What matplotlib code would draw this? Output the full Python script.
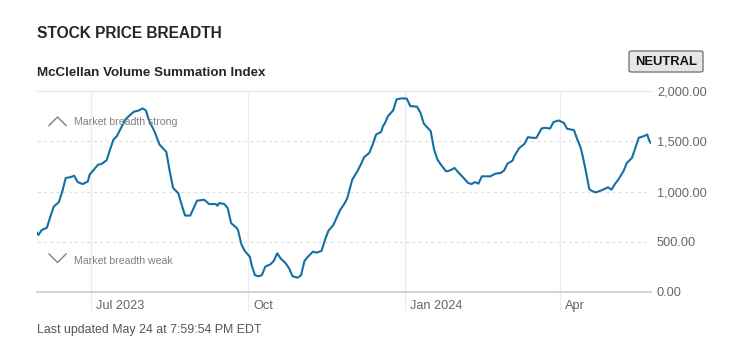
import matplotlib
matplotlib.use("Agg")
import matplotlib.pyplot as plt
import matplotlib.dates as mdates
from matplotlib.transforms import ScaledTranslation
from matplotlib.patches import FancyBboxPatch
from matplotlib.lines import Line2D
import pandas as pd

plt.rcParams['font.family'] = ['Liberation Sans', 'DejaVu Sans']

title = "STOCK PRICE BREADTH"
subtitle = "McClellan Volume Summation Index"
status = "NEUTRAL"
footer = "Last updated May 24 at 7:59:54 PM EDT"
label_strong = "Market breadth strong"
label_weak = "Market breadth weak"

dates = [
    "2023-05-30", "2023-05-31", "2023-06-02", "2023-06-05", "2023-06-07", "2023-06-09",
    "2023-06-12", "2023-06-14", "2023-06-16", "2023-06-19", "2023-06-21", "2023-06-23",
    "2023-06-26", "2023-06-29", "2023-06-30", "2023-07-03", "2023-07-05", "2023-07-07",
    "2023-07-10", "2023-07-12", "2023-07-14", "2023-07-16", "2023-07-19", "2023-07-21",
    "2023-07-23", "2023-07-26", "2023-07-29", "2023-07-31", "2023-08-02", "2023-08-04",
    "2023-08-07", "2023-08-10", "2023-08-14", "2023-08-16", "2023-08-18", "2023-08-21",
    "2023-08-23", "2023-08-25", "2023-08-28", "2023-08-30", "2023-09-01", "2023-09-05",
    "2023-09-06", "2023-09-08", "2023-09-12", "2023-09-13", "2023-09-14", "2023-09-17",
    "2023-09-19", "2023-09-21", "2023-09-24", "2023-09-25", "2023-09-27", "2023-09-29",
    "2023-10-02", "2023-10-03", "2023-10-05", "2023-10-07", "2023-10-09", "2023-10-11",
    "2023-10-14", "2023-10-16", "2023-10-18", "2023-10-20", "2023-10-23", "2023-10-25",
    "2023-10-27", "2023-10-30", "2023-11-01", "2023-11-03", "2023-11-05", "2023-11-08",
    "2023-11-10", "2023-11-13", "2023-11-15", "2023-11-17", "2023-11-20", "2023-11-22",
    "2023-11-24", "2023-11-26", "2023-11-28", "2023-12-01", "2023-12-04", "2023-12-06",
    "2023-12-08", "2023-12-11", "2023-12-13", "2023-12-15", "2023-12-18", "2023-12-19",
    "2023-12-20", "2023-12-22", "2023-12-25", "2023-12-27", "2023-12-30", "2024-01-02",
    "2024-01-04", "2024-01-08", "2024-01-10", "2024-01-12", "2024-01-16", "2024-01-18",
    "2024-01-20", "2024-01-22", "2024-01-25", "2024-01-27", "2024-01-30", "2024-02-01",
    "2024-02-04", "2024-02-07", "2024-02-09", "2024-02-11", "2024-02-13", "2024-02-15",
    "2024-02-20", "2024-02-23", "2024-02-26", "2024-02-28", "2024-03-01", "2024-03-04",
    "2024-03-05", "2024-03-08", "2024-03-11", "2024-03-13", "2024-03-16", "2024-03-18",
    "2024-03-21", "2024-03-23", "2024-03-26", "2024-03-28", "2024-03-31", "2024-04-03",
    "2024-04-05", "2024-04-09", "2024-04-11", "2024-04-13", "2024-04-14", "2024-04-16",
    "2024-04-18", "2024-04-20", "2024-04-22", "2024-04-25", "2024-04-29", "2024-05-01",
    "2024-05-03", "2024-05-05", "2024-05-08", "2024-05-10", "2024-05-13", "2024-05-15",
    "2024-05-17", "2024-05-20", "2024-05-22", "2024-05-23", "2024-05-24",
]

values = [
    594, 567, 617, 640, 750, 850,
    894, 1000, 1134, 1144, 1157, 1094,
    1074, 1100, 1167, 1227, 1267, 1274,
    1311, 1417, 1517, 1551, 1651, 1717,
    1750, 1794, 1807, 1827, 1807, 1700,
    1600, 1467, 1394, 1201, 1034, 984,
    867, 761, 760, 834, 908, 918,
    908, 875, 875, 858, 885, 875,
    834, 685, 641, 618, 475, 408,
    351, 268, 167, 157, 167, 252,
    275, 309, 385, 335, 285, 235,
    157, 142, 167, 309, 351, 402,
    392, 408, 518, 608, 668, 745,
    818, 868, 928, 1118, 1201, 1267,
    1341, 1384, 1467, 1567, 1594, 1651,
    1674, 1751, 1807, 1917, 1927, 1924,
    1850, 1844, 1784, 1674, 1601, 1417,
    1317, 1267, 1201, 1207, 1234, 1194,
    1141, 1084, 1074, 1094, 1078, 1151,
    1151, 1178, 1184, 1208, 1277, 1307,
    1351, 1434, 1474, 1541, 1534, 1534,
    1627, 1634, 1627, 1691, 1707, 1684,
    1624, 1611, 1517, 1434, 1361, 1201,
    1024, 1001, 991, 1011, 1041, 1018,
    1074, 1118, 1201, 1284, 1334, 1434,
    1534, 1551, 1567, 1510, 1484,
]

y_ticks = [0, 500, 1000, 1500, 2000]
x_tick_dates = ["2023-07-01", "2023-10-01", "2024-01-01", "2024-04-01"]
x_tick_labels = ["Jul 2023", "Oct", "Jan 2024", "Apr"]

W, H = 742, 359
fig = plt.figure(figsize=(W / 100, H / 100), dpi=100)
fig.patch.set_facecolor("white")


def fx(px):
    return px / W


def fy(py):
    return 1 - py / H


left, right, top, bottom = 36.7, 650.7, 91, 292
ax = fig.add_axes([fx(left), fy(bottom), fx(right) - fx(left), (bottom - top) / H])

d = pd.to_datetime(dates)
ax.plot(d, values, color="#1470a3", lw=1.5, zorder=5, solid_joinstyle="round")

ax.set_xlim(d[0], d[-1])
ax.set_ylim(0, 2000)

for s in ["left", "right", "top", "bottom"]:
    ax.spines[s].set_visible(False)

# horizontal grid
for v in y_ticks:
    if v == 0:
        ax.axhline(v, color="#cccccc", lw=1.2, zorder=2, clip_on=False)
    elif v == 2000:
        ax.axhline(v, color="#e6e6e6", lw=1.0, zorder=1, clip_on=False)
    else:
        ax.axhline(v, color="#e0e0e0", lw=0.9, ls=(0, (2.5, 2.5)), zorder=1)

# vertical grid
xt = pd.to_datetime(x_tick_dates)
for t in xt:
    ax.axvline(t, ymin=-18 / (bottom - top), ymax=1, color="#ececec", lw=1.0, zorder=1, clip_on=False)

ax.yaxis.tick_right()
ax.set_yticks(y_ticks)
ax.set_yticklabels([f"{v:,.2f}" for v in y_ticks])
ax.tick_params(axis="y", length=0, pad=4.5, labelsize=9.2, labelcolor="#666666")

ax.set_xticks(xt)
ax.set_xticklabels(x_tick_labels)
ax.tick_params(axis="x", length=0, pad=5.5, labelsize=9.2, labelcolor="#666666")
off = ScaledTranslation(5 / 100, 0, fig.dpi_scale_trans)
for lab in ax.get_xticklabels():
    lab.set_horizontalalignment("left")
    lab.set_transform(lab.get_transform() + off)

# titles
fig.text(fx(37), fy(33), title, fontsize=11.2, fontweight="bold", color="#262626", va="center", ha="left")
fig.text(fx(37), fy(73), subtitle, fontsize=9.6, fontweight="bold", color="#262626", va="center", ha="left")

# status badge
bx0, bx1, by0, by1 = 629, 703, 51, 72
badge = FancyBboxPatch((fx(bx0), fy(by1)), fx(bx1) - fx(bx0), fy(by0) - fy(by1),
                       boxstyle="round,pad=0,rounding_size=0.004", transform=fig.transFigure,
                       facecolor="#e6e6e6", edgecolor="#7a7a7a", lw=1.0)
fig.add_artist(badge)
fig.text(fx((bx0 + bx1) / 2), fy((by0 + by1) / 2 + 0.5), status, fontsize=9.4, fontweight="bold",
         color="#111111", ha="center", va="center")

# annotations
fig.add_artist(Line2D([fx(49), fx(57.5), fx(66)], [fy(125.5), fy(117), fy(125.5)],
                      transform=fig.transFigure, color="#808080", lw=1.0))
fig.add_artist(Line2D([fx(49), fx(57.5), fx(66)], [fy(254), fy(262.5), fy(254)],
                      transform=fig.transFigure, color="#808080", lw=1.0))
fig.text(fx(74), fy(122.5), label_strong, fontsize=7.6, color="#808080", ha="left", va="center", zorder=1)
fig.text(fx(74), fy(260.5), label_weak, fontsize=7.6, color="#808080", ha="left", va="center", zorder=1)

# footer
fig.text(fx(37), fy(329.5), footer, fontsize=8.9, color="#555555", ha="left", va="center")

fig.savefig("out.png", dpi=100, facecolor="white")
